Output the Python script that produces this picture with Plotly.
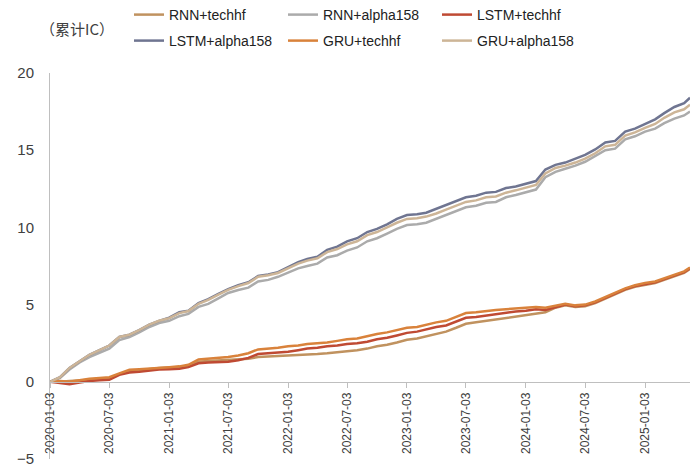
import plotly.graph_objects as go

# Monthly dates from 2020-01-03 to end of data
dates = [f"{y}-{m:02d}-03" for y in range(2020, 2026) for m in range(1, 13)][:65] + ["2025-05-21"]

rnn_techhf = [0, 0.0, 0.05, 0.1, 0.15, 0.18, 0.2, 0.5, 0.7, 0.75, 0.85, 0.9,
              0.92, 0.95, 1.05, 1.3, 1.35, 1.38, 1.4, 1.45, 1.5, 1.6, 1.63, 1.65,
              1.68, 1.72, 1.75, 1.8, 1.85, 1.9, 1.98, 2.05, 2.15, 2.3, 2.4, 2.55,
              2.72, 2.8, 2.95, 3.1, 3.25, 3.5, 3.76, 3.85, 3.95, 4.05, 4.15, 4.25,
              4.34, 4.45, 4.5, 4.8, 4.95, 4.85, 4.9, 5.1, 5.4, 5.7, 5.95, 6.15,
              6.3, 6.4, 6.6, 6.85, 7.05, 7.3]
rnn_alpha158 = [0, 0.25, 0.8, 1.25, 1.6, 1.9, 2.15, 2.7, 2.9, 3.2, 3.55, 3.8,
                3.95, 4.25, 4.4, 4.85, 5.05, 5.4, 5.75, 5.95, 6.1, 6.5, 6.6, 6.8,
                7.1, 7.35, 7.5, 7.65, 8.05, 8.2, 8.5, 8.7, 9.1, 9.3, 9.6, 9.9,
                10.15, 10.2, 10.3, 10.55, 10.8, 11.05, 11.3, 11.4, 11.6, 11.65, 11.95, 12.1,
                12.3, 12.45, 13.25, 13.6, 13.8, 14.0, 14.25, 14.6, 15.0, 15.1, 15.7, 15.9,
                16.2, 16.4, 16.75, 17.05, 17.25, 17.5]
lstm_techhf = [0, -0.1, -0.15, -0.05, 0.05, 0.1, 0.13, 0.45, 0.6, 0.65, 0.75, 0.8,
               0.82, 0.85, 0.95, 1.2, 1.25, 1.28, 1.3, 1.4, 1.55, 1.8, 1.85, 1.9,
               1.95, 2.05, 2.15, 2.2, 2.3, 2.35, 2.45, 2.5, 2.6, 2.75, 2.85, 3.0,
               3.17, 3.25, 3.4, 3.55, 3.65, 3.9, 4.15, 4.2, 4.3, 4.4, 4.5, 4.55,
               4.6, 4.7, 4.65, 4.85, 5.0, 4.9, 4.95, 5.15, 5.45, 5.75, 6.0, 6.2,
               6.35, 6.45, 6.65, 6.9, 7.1, 7.35]
lstm_alpha158 = [0, 0.3, 0.9, 1.35, 1.75, 2.05, 2.35, 2.9, 3.05, 3.35, 3.7, 3.95,
                 4.15, 4.5, 4.6, 5.1, 5.35, 5.7, 6.0, 6.25, 6.45, 6.85, 6.95, 7.1,
                 7.4, 7.75, 7.95, 8.1, 8.55, 8.75, 9.1, 9.3, 9.7, 9.9, 10.2, 10.55,
                 10.8, 10.85, 10.95, 11.2, 11.45, 11.7, 11.95, 12.05, 12.25, 12.3, 12.55, 12.65,
                 12.85, 13.0, 13.75, 14.05, 14.2, 14.45, 14.7, 15.05, 15.5, 15.6, 16.2, 16.4,
                 16.7, 17.0, 17.4, 17.8, 18.05, 18.4]
gru_techhf = [0, 0.05, 0.0, 0.1, 0.2, 0.25, 0.3, 0.55, 0.78, 0.82, 0.88, 0.92,
              0.95, 1.0, 1.1, 1.45, 1.5, 1.55, 1.6, 1.7, 1.85, 2.1, 2.15, 2.2,
              2.3, 2.35, 2.45, 2.5, 2.55, 2.65, 2.75, 2.8, 2.95, 3.1, 3.2, 3.35,
              3.5, 3.55, 3.7, 3.85, 3.95, 4.2, 4.45, 4.5, 4.6, 4.65, 4.7, 4.75,
              4.8, 4.85, 4.8, 4.95, 5.05, 4.95, 5.0, 5.2, 5.5, 5.8, 6.05, 6.25,
              6.4, 6.5, 6.7, 6.95, 7.15, 7.4]
gru_alpha158 = [0, 0.3, 0.9, 1.35, 1.75, 2.05, 2.35, 2.9, 3.05, 3.35, 3.7, 3.95,
                4.12, 4.45, 4.58, 5.05, 5.3, 5.65, 5.95, 6.2, 6.4, 6.8, 6.9, 7.05,
                7.35, 7.65, 7.85, 8.0, 8.4, 8.6, 8.9, 9.1, 9.5, 9.7, 10.0, 10.3,
                10.55, 10.6, 10.7, 10.9, 11.15, 11.4, 11.65, 11.75, 11.95, 12.0, 12.25, 12.4,
                12.6, 12.75, 13.5, 13.85, 14.0, 14.2, 14.45, 14.8, 15.25, 15.35, 15.95, 16.15,
                16.45, 16.7, 17.1, 17.45, 17.65, 17.95]

x_ticks = ["2020-01-03", "2020-07-03", "2021-01-03", "2021-07-03", "2022-01-03",
           "2022-07-03", "2023-01-03", "2023-07-03", "2024-01-03", "2024-07-03",
           "2025-01-03"]
y_ticks = [-5, 0, 5, 10, 15, 20]

names = ["RNN+techhf", "RNN+alpha158", "LSTM+techhf",
         "LSTM+alpha158", "GRU+techhf", "GRU+alpha158"]
values = [rnn_techhf, rnn_alpha158, lstm_techhf, lstm_alpha158, gru_techhf, gru_alpha158]
colors = ["#C0925F", "#ABABAB", "#BF4A33", "#6F7591", "#D9823B", "#CDB597"]

W, H = 692, 460          # page adds an 8px body margin on top/left
col_x = [121, 275, 429]  # legend anchor per column (figure px)
row_y = [7, 33]          # legend centre per row (figure px)

font = "Liberation Sans, Arial, sans-serif"
fig = go.Figure()
layout_legends = {"legend": dict(visible=False)}
for i, (name, vals, color) in enumerate(zip(names, values, colors)):
    key = f"legend{i + 2}"
    fig.add_trace(go.Scatter(x=dates, y=vals, mode="lines", name=name,
                             line=dict(color=color, width=2.5), legend=key))
    layout_legends[key] = dict(
        orientation="h", xref="container", yref="container",
        x=col_x[i % 3] / W, y=1 - row_y[i // 3] / H,
        xanchor="left", yanchor="middle",
        font=dict(family=font, size=14, color="#222222"),
        bgcolor="rgba(0,0,0,0)", itemwidth=30)

fig.update_layout(
    width=W, height=H, showlegend=True,
    margin=dict(l=42, r=10, t=65, b=9, autoexpand=False),
    paper_bgcolor="white", plot_bgcolor="white",
    font=dict(family=font, color="#404040"),
    xaxis=dict(type="date", range=["2020-01-03", "2025-05-21"],
               tickvals=x_ticks, ticktext=x_ticks, tickangle=-90,
               tickfont=dict(family=font, size=12, color="#404040"),
               showgrid=False, showline=True, linecolor="#BFBFBF", linewidth=1,
               ticks="outside", ticklen=5, tickcolor="#BFBFBF",
               anchor="free", position=0.2, zeroline=False),
    yaxis=dict(range=[-5, 20], tickvals=y_ticks, showgrid=False,
               showline=True, linecolor="#BFBFBF", linewidth=1,
               ticks="outside", ticklen=12, tickcolor="rgba(0,0,0,0)",
               zeroline=False,
               tickfont=dict(family=font, size=15, color="#404040")),
    annotations=[dict(text="（累计IC）", xref="paper", yref="paper",
                      x=(30 - 42) / 640, xanchor="left", y=(H - 9 - 20) / 386,
                      yanchor="middle", showarrow=False,
                      font=dict(family="Noto Sans CJK SC", size=15, color="#404040"))],
    **layout_legends,
)

fig.write_html("out.html")
